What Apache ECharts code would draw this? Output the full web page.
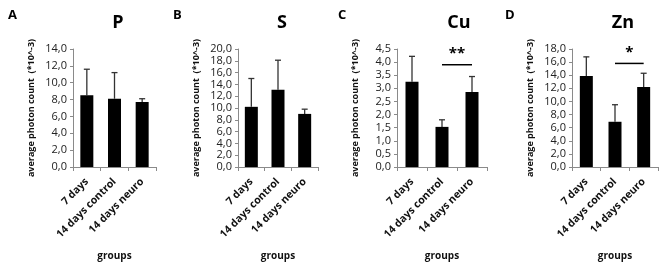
<!DOCTYPE html>
<html>
<head>
<meta charset="utf-8">
<script src="https://cdn.jsdelivr.net/npm/echarts@6/dist/echarts.min.js"></script>
<style>
  html, body { margin: 0; padding: 0; background: #fff; }
  #main { width: 661px; height: 264px; }
</style>
</head>
<body>
<div id="main"></div>
<script>
const groups = ['7 days', '14 days control', '14 days neuro'];

// mean and upper error (sd) per element, photon count *10^-3
const pMean = [8.5, 8.1, 7.7];
const pSd = [3.1, 3.1, 0.4];
const sMean = [10.2, 13.1, 9.0];
const sSd = [4.8, 5.0, 0.8];
const cuMean = [3.25, 1.53, 2.86];
const cuSd = [0.97, 0.27, 0.59];
const znMean = [13.9, 6.9, 12.2];
const znSd = [2.9, 2.6, 2.1];

const panelTitles = ['P', 'S', 'Cu', 'Zn'];
const panelLetters = ['A', 'B', 'C', 'D'];
const yMax = [14, 20, 4.5, 18];
const yStep = [2, 2, 0.5, 2];

// significance bars: [from, to, y, label]
const sigC = [1, 2, 3.9, '**'];
const sigD = [1, 2, 15.8, '*'];

const chart = echarts.init(document.getElementById('main'));

const font = 'Open Sans';
const grids = [
  {left: 73, top: 49, width: 83, height: 118},
  {left: 238, top: 49, width: 80, height: 118},
  {left: 397, top: 49, width: 90, height: 118},
  {left: 572, top: 49, width: 86, height: 118}
];
const titleX = [113, 277, 454, 618];
const letterX = [3, 168, 333, 500];

const means = [pMean, sMean, cuMean, znMean];
const sds = [pSd, sSd, cuSd, znSd];

const xAxes = [], yAxes = [], series = [], titles = [];
for (let i = 0; i < 4; i++) {
  xAxes.push({
    type: 'category', gridIndex: i, data: groups,
    axisLine: {lineStyle: {color: '#8a8a8a'}},
    axisTick: {show: true, length: 4, lineStyle: {color: '#8a8a8a'}},
    axisLabel: {rotate: 45, interval: 0, margin: 13, color: '#111', fontSize: 10.5, fontWeight: 'bold', fontFamily: font},
    name: 'groups', nameLocation: 'middle', nameGap: 84,
    nameTextStyle: {fontSize: 10, fontWeight: 'bold', color: '#111', fontFamily: font}
  });
  yAxes.push({
    type: 'value', gridIndex: i, min: 0, max: yMax[i], interval: yStep[i],
    splitLine: {show: false},
    axisLine: {show: true, lineStyle: {color: '#8a8a8a'}},
    axisTick: {show: true, length: 3, lineStyle: {color: '#8a8a8a'}},
    axisLabel: {
      color: '#222', fontSize: 11, fontFamily: font, margin: 6,
      formatter: v => v.toFixed(1).replace('.', ',')
    },
    name: 'average photon count  (*10^-3)', nameLocation: 'middle', nameGap: 37,
    nameTextStyle: {fontSize: 9, fontWeight: 'bold', color: '#111', fontFamily: font}
  });
  series.push({
    type: 'bar', xAxisIndex: i, yAxisIndex: i, data: means[i],
    barWidth: 13, itemStyle: {color: '#000'}, silent: true
  });
  series.push({
    type: 'custom', xAxisIndex: i, yAxisIndex: i, z: 1,
    data: means[i].map((m, k) => [k, m, m + sds[i][k]]),
    renderItem: (params, api) => {
      const lo = api.coord([api.value(0), api.value(1)]);
      const hi = api.coord([api.value(0), api.value(2)]);
      const st = {stroke: '#333', lineWidth: 1.3};
      return {type: 'group', children: [
        {type: 'line', shape: {x1: lo[0], y1: lo[1], x2: hi[0], y2: hi[1]}, style: st},
        {type: 'line', shape: {x1: hi[0] - 3, y1: hi[1], x2: hi[0] + 3, y2: hi[1]}, style: st}
      ]};
    }
  });
  titles.push({
    text: panelTitles[i], left: titleX[i], top: 9, textAlign: 'center',
    textStyle: {fontSize: 18, fontWeight: 'bold', color: '#000', fontFamily: font}
  });
  titles.push({
    text: panelLetters[i], left: letterX[i], top: 4,
    textStyle: {fontSize: 13, fontWeight: 'bold', color: '#000', fontFamily: font}
  });
}

function sigSeries(idx, sig) {
  return {
    type: 'custom', xAxisIndex: idx, yAxisIndex: idx,
    data: [[sig[0], sig[1], sig[2]]],
    renderItem: (params, api) => {
      const a = api.coord([api.value(0), api.value(2)]);
      const b = api.coord([api.value(1), api.value(2)]);
      return {type: 'group', children: [
        {type: 'line', shape: {x1: a[0], y1: a[1], x2: b[0], y2: b[1]}, style: {stroke: '#000', lineWidth: 1.5}},
        {type: 'text', x: (a[0] + b[0]) / 2, y: a[1] - 3,
          style: {text: sig[3], textAlign: 'center', textVerticalAlign: 'bottom', fontSize: 15, fontWeight: 'bold', fill: '#000', fontFamily: font}}
      ]};
    }
  };
}
series.push(sigSeries(2, sigC));
series.push(sigSeries(3, sigD));

chart.setOption({
  animation: false,
  title: titles,
  grid: grids,
  xAxis: xAxes,
  yAxis: yAxes,
  series: series
});
</script>
</body>
</html>
